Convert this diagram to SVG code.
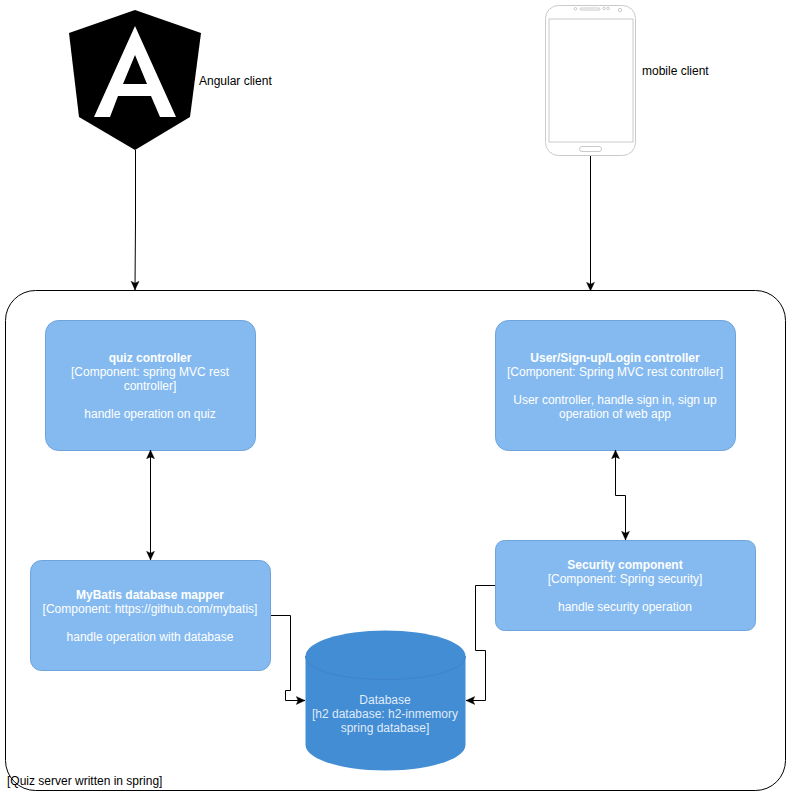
<svg xmlns="http://www.w3.org/2000/svg" width="791" height="797" viewBox="0 0 791 797">
<style>
text{font-family:"Liberation Sans",Arial,sans-serif;font-size:12px}
.w{fill:#fff;text-anchor:middle}
.wf{fill:#fff;fill-opacity:.85;text-anchor:middle}
.k{fill:#000}
.b{font-weight:bold}
.box{fill:#85baf0;stroke:#6ea3dc;stroke-width:1}
.c{fill:none;stroke:#000;stroke-width:1}
.ph{fill:none;stroke:#cacaca;stroke-width:1}
</style>
<defs>
<marker id="a" viewBox="0 0 8 8" refX="7.500" refY="4" markerWidth="10" markerHeight="10" markerUnits="userSpaceOnUse" orient="auto-start-reverse"><path d="M.5 .8L7.500 4L.5 7.200L2 4Z" fill="#000" stroke="#000" stroke-width=".3"/></marker>
</defs>
<rect width="791" height="797" fill="#fff"/>
<g id="server">
<rect x="5.500" y="290.500" width="780" height="500" rx="30" ry="30" fill="#fff" stroke="#000"/>
<text x="7" y="785" class="k">[Quiz server written in spring]</text>
</g>
<g id="angular">
<path d="M135 10L201 33L190 117L135 150L79 117L69 33Z" fill="#000"/>
<path fill-rule="evenodd" d="M135 26L176 117H160L151 96H118L110 117H94ZM135 55L123 84H147Z" fill="#fff"/>
<text x="199" y="85" class="k">Angular client</text>
</g>
<g id="mobile">
<rect x="545.500" y="5.500" width="90" height="150" rx="13" ry="13" class="ph"/>
<rect x="549" y="19" width="84" height="123" class="ph"/>
<rect x="579.500" y="146.500" width="22" height="5" rx="2.500" class="ph"/>
<rect x="580" y="8" width="20" height="2" rx="1" class="ph"/>
<circle cx="575.500" cy="8.800" r="1.300" class="ph"/>
<circle cx="604" cy="8.500" r="1.300" class="ph"/>
<circle cx="608" cy="8.500" r="1.300" class="ph"/>
<circle cx="620" cy="10" r="1.700" class="ph"/>
<text x="642" y="75" class="k">mobile client</text>
</g>
<g id="quiz-controller">
<rect x="45.500" y="320.500" width="210" height="130" rx="13" ry="13" class="box"/>
<text class="w"><tspan x="150" y="362" class="b">quiz controller</tspan><tspan x="150" y="376">[Component: spring MVC rest</tspan><tspan x="150" y="390">controller]</tspan><tspan x="150" y="418">handle operation on quiz</tspan></text>
</g>
<g id="user-controller">
<rect x="495.500" y="320.500" width="240" height="130" rx="13" ry="13" class="box"/>
<text class="w"><tspan x="615" y="362" class="b">User/Sign-up/Login controller</tspan><tspan x="615" y="376">[Component: Spring MVC rest controller]</tspan><tspan x="615" y="404">User controller, handle sign in, sign up</tspan><tspan x="615" y="418">operation of web app</tspan></text>
</g>
<g id="mybatis">
<rect x="30.500" y="560.500" width="240" height="110" rx="11" ry="11" class="box"/>
<text class="w"><tspan x="150" y="599" class="b">MyBatis database mapper</tspan><tspan x="150" y="613">[Component: https://github.com/mybatis]</tspan><tspan x="150" y="641">handle operation with database</tspan></text>
</g>
<g id="security">
<rect x="495.500" y="540.500" width="260" height="90" rx="9" ry="9" class="box"/>
<text class="w"><tspan x="625" y="569" class="b">Security component</tspan><tspan x="625" y="583">[Component: Spring security]</tspan><tspan x="625" y="611">handle security operation</tspan></text>
</g>
<g id="database">
<path d="M305.500 656C305.500 642 341 630.500 385.500 630.500S465.500 642 465.500 656V745C465.500 759 430 770.500 385.500 770.500S305.500 759 305.500 745Z" fill="#438dd5"/>
<path d="M305.500 656C305.500 670 341 679.500 385.500 679.500S465.500 670 465.500 656" fill="none" stroke="#3f84c8"/>
<text class="wf"><tspan x="385" y="704">Database</tspan><tspan x="385" y="718">[h2 database: h2-inmemory</tspan><tspan x="385" y="732">spring database]</tspan></text>
</g>
<g id="connectors">
<path class="c" marker-end="url(#a)" d="M135.500 150V220L135 290"/>
<path class="c" marker-end="url(#a)" d="M590.500 156V291"/>
<path class="c" marker-start="url(#a)" marker-end="url(#a)" d="M150.500 450V560"/>
<path class="c" marker-start="url(#a)" marker-end="url(#a)" d="M615.500 450V495.500H625.500V540"/>
<path class="c" marker-end="url(#a)" d="M271 615.500H290.500V690.500H285.500V700.500H305"/>
<path class="c" marker-end="url(#a)" d="M495 585.500H475.500V650.500H485.500V700.500H466"/>
</g>
</svg>
